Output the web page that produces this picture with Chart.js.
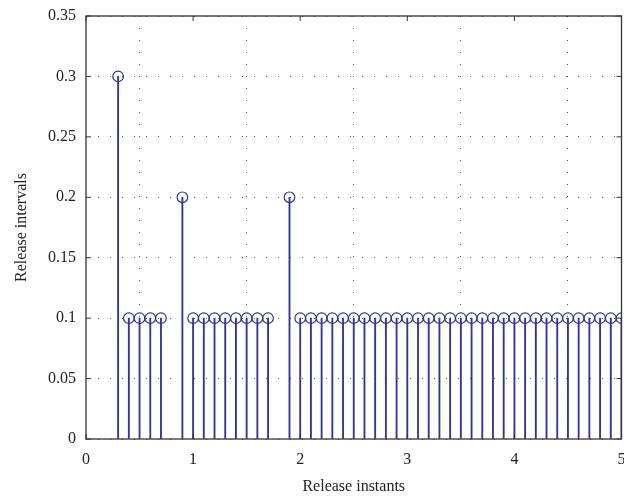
<!DOCTYPE html>
<html>
<head>
<meta charset="utf-8">
<script src="https://cdn.jsdelivr.net/npm/chart.js@4/dist/chart.umd.min.js"></script>
<style>
  html, body { margin: 0; padding: 0; background: #fff; overflow: hidden; }
  #wrap { width: 628px; height: 500px; }
</style>
</head>
<body>
<div id="wrap"><canvas id="canvas1"></canvas></div>
<script>
  // release instants (x) and release intervals (y)
  const instants = [0.3, 0.4, 0.5, 0.6, 0.7, 0.9,
    1.0, 1.1, 1.2, 1.3, 1.4, 1.5, 1.6, 1.7, 1.9,
    2.0, 2.1, 2.2, 2.3, 2.4, 2.5, 2.6, 2.7, 2.8, 2.9,
    3.0, 3.1, 3.2, 3.3, 3.4, 3.5, 3.6, 3.7, 3.8, 3.9,
    4.0, 4.1, 4.2, 4.3, 4.4, 4.5, 4.6, 4.7, 4.8, 4.9, 5.0];
  const intervals = [0.3, 0.1, 0.1, 0.1, 0.1, 0.2,
    0.1, 0.1, 0.1, 0.1, 0.1, 0.1, 0.1, 0.1, 0.2,
    0.1, 0.1, 0.1, 0.1, 0.1, 0.1, 0.1, 0.1, 0.1, 0.1,
    0.1, 0.1, 0.1, 0.1, 0.1, 0.1, 0.1, 0.1, 0.1, 0.1,
    0.1, 0.1, 0.1, 0.1, 0.1, 0.1, 0.1, 0.1, 0.1, 0.1, 0.1];
  const xTicks = [0, 1, 2, 3, 4, 5];
  const yTicks = [0, 0.05, 0.1, 0.15, 0.2, 0.25, 0.3, 0.35];
  const yTickLabels = ['0', '0.05', '0.1', '0.15', '0.2', '0.25', '0.3', '0.35'];

  const stemColor = '#33339a';
  const axisColor = '#333333';
  const puntos = instants.map((x, i) => ({x: x, y: intervals[i]}));

  // caja y marcas hacia adentro, estilo matlab
  const cajaPlugin = {
    id: 'caja',
    afterDraw(chart) {
      const ctx = chart.ctx, a = chart.chartArea;
      const xs = chart.scales.x, ys = chart.scales.y;
      ctx.save();
      ctx.strokeStyle = axisColor;
      ctx.lineWidth = 1.3;
      ctx.strokeRect(a.left, a.top, a.right - a.left, a.bottom - a.top);
      ctx.lineWidth = 1;
      ctx.beginPath();
      xTicks.forEach(v => {
        const p = xs.getPixelForValue(v);
        ctx.moveTo(p, a.bottom); ctx.lineTo(p, a.bottom - 5);
        ctx.moveTo(p, a.top); ctx.lineTo(p, a.top + 5);
      });
      yTicks.forEach(v => {
        const p = ys.getPixelForValue(v);
        ctx.moveTo(a.left, p); ctx.lineTo(a.left + 5, p);
        ctx.moveTo(a.right, p); ctx.lineTo(a.right - 5, p);
      });
      ctx.stroke();
      ctx.restore();
    }
  };

  const fuente = {family: "'Liberation Serif', 'DejaVu Serif', serif", size: 16};

  var myChart = new Chart(canvas1, {
    type: 'bar',
    data: {
      datasets: [{
        type: 'bar',
        data: puntos,
        backgroundColor: stemColor,
        borderWidth: 0,
        barThickness: 1.2
      }, {
        type: 'scatter',
        data: puntos,
        pointStyle: 'circle',
        pointRadius: 5.3,
        pointBorderWidth: 1.2,
        pointBorderColor: stemColor,
        pointBackgroundColor: 'rgba(0,0,0,0)',
        showLine: false
      }]
    },
    options: {
      responsive: true,
      maintainAspectRatio: false,
      animation: false,
      layout: {padding: {left: 0, right: 0, top: 16, bottom: 0}},
      plugins: {legend: {display: false}, tooltip: {enabled: false}},
      scales: {
        x: {
          type: 'linear',
          offset: false,
          min: 0, max: 5,
          afterBuildTicks: s => { s.ticks = xTicks.map(v => ({value: v})); },
          afterFit: s => { s.height = 61; s.paddingLeft = 0; s.paddingRight = 0; s.paddingTop = 0; s.paddingBottom = 0; },
          ticks: {color: '#222', font: fuente, padding: 11, maxRotation: 0},
          grid: {color: '#555', lineWidth: 1, drawTicks: false},
          border: {display: false, dash: [1, 11]},
          title: {display: true, text: 'Release instants', color: '#222', font: fuente, padding: {top: 0, bottom: 4}}
        },
        y: {
          min: 0, max: 0.35,
          afterBuildTicks: s => { s.ticks = yTicks.map(v => ({value: v})); },
          afterFit: s => { s.width = 86; s.paddingTop = 0; s.paddingBottom = 0; s.paddingLeft = 0; s.paddingRight = 0; },
          ticks: {color: '#222', font: fuente, padding: 10,
            callback: (v, i) => yTickLabels[i]},
          grid: {color: '#555', lineWidth: 1, drawTicks: false},
          border: {display: false, dash: [1, 11]},
          title: {display: true, text: 'Release intervals', color: '#222', font: fuente, padding: {top: 12, bottom: 0}}
        }
      }
    },
    plugins: [cajaPlugin]
  });
</script>
</body>
</html>
